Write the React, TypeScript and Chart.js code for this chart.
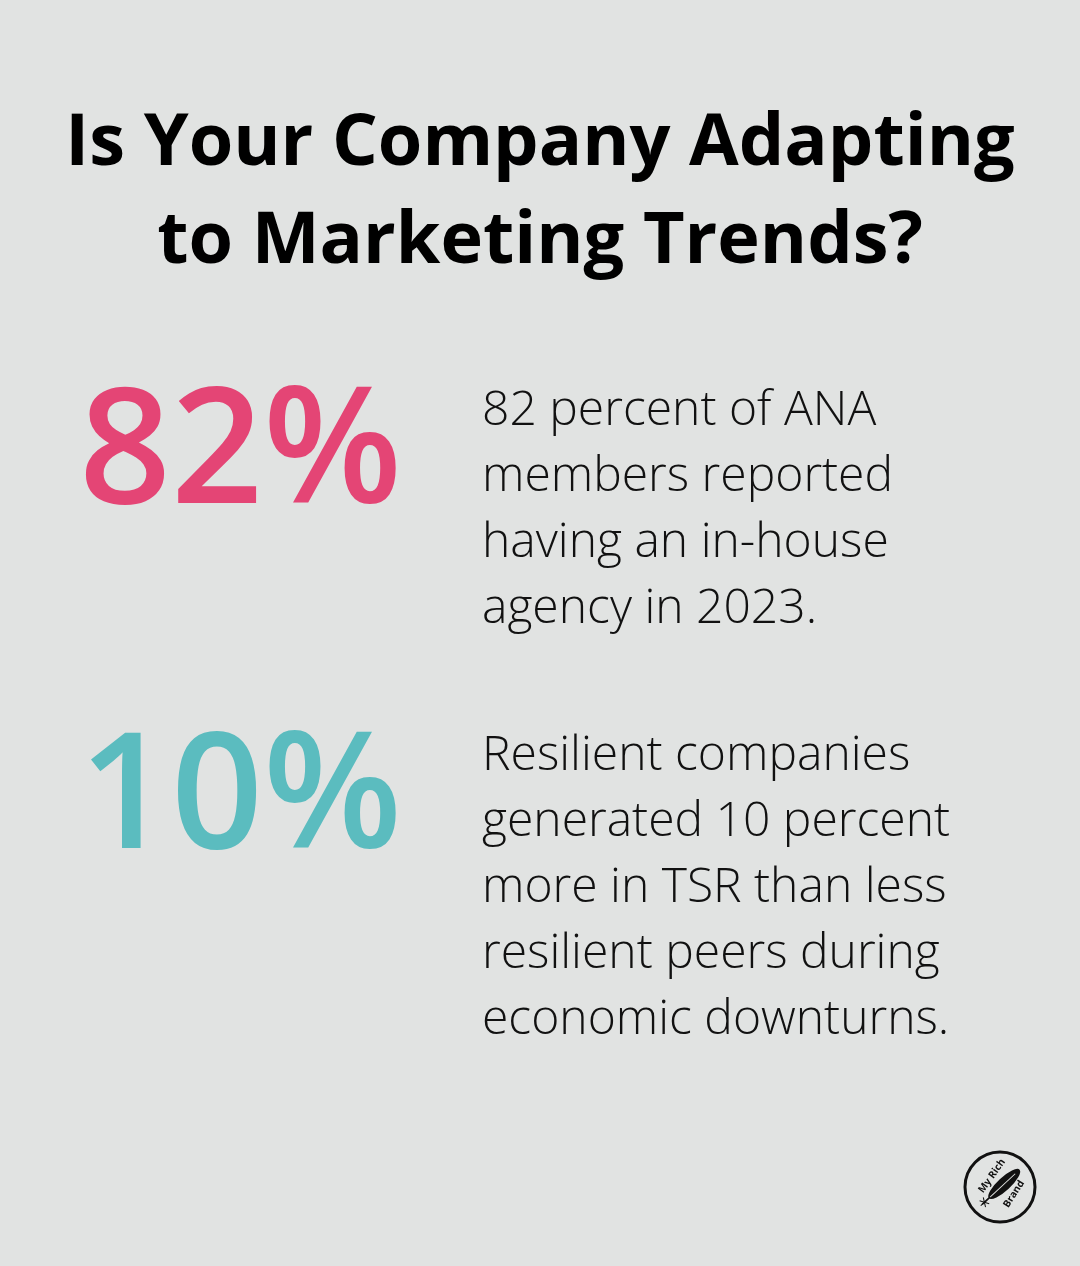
import React, { useEffect, useRef } from "react";
import { Chart, registerables } from "chart.js";

Chart.register(...registerables);

const TITLE_LINES = ["Is Your Company Adapting", "to Marketing Trends?"];
const STAT_LABELS = ["ANA members with in-house agency", "Resilient companies TSR advantage"];
const STAT_VALUES = [82, 10];
const STAT_COLORS = ["#e44575", "#5bbcbf"];
const STAT_TEXT_1 = ["82 percent of ANA", "members reported", "having an in-house", "agency in 2023."];
const STAT_TEXT_2 = [
  "Resilient companies",
  "generated 10 percent",
  "more in TSR than less",
  "resilient peers during",
  "economic downturns.",
];
const BRAND_LINES = ["My Rich", "Brand"];

const BG = "#e1e3e2";
const FONT = "'Open Sans', 'Noto Sans', sans-serif";

const infographicPlugin = {
  id: "infographic",
  beforeDraw(chart: any) {
    const ctx = chart.ctx;
    ctx.save();
    ctx.fillStyle = BG;
    ctx.fillRect(0, 0, chart.width, chart.height);
    ctx.restore();
  },
  afterDraw(chart: any) {
    const ctx: CanvasRenderingContext2D = chart.ctx;
    const values = chart.data.datasets[0].data as number[];
    const texts = [STAT_TEXT_1, STAT_TEXT_2];
    const numBaselines = [503, 848];
    const textBaselines = [425, 770];
    ctx.save();
    ctx.textAlign = "left";
    ctx.textBaseline = "alphabetic";
    values.forEach((v, i) => {
      ctx.fillStyle = STAT_COLORS[i];
      ctx.font = `600 161px ${FONT}`;
      ctx.fillText(`${v}%`, 79, numBaselines[i]);
      ctx.fillStyle = "#111111";
      ctx.font = `300 48px ${FONT}`;
      texts[i].forEach((line, j) => {
        ctx.fillText(line, 482, textBaselines[i] + j * 66);
      });
    });

    // logo
    const cx = 1000;
    const cy = 1187;
    ctx.beginPath();
    ctx.arc(cx, cy, 35, 0, Math.PI * 2);
    ctx.lineWidth = 3;
    ctx.strokeStyle = "#111111";
    ctx.stroke();

    // feather
    ctx.save();
    ctx.translate(1002, 1186);
    ctx.rotate(-Math.PI / 4.2);
    ctx.beginPath();
    ctx.ellipse(3, 0, 21, 6.5, 0, 0, Math.PI * 2);
    ctx.fillStyle = "#111111";
    ctx.fill();
    ctx.beginPath();
    ctx.moveTo(-24, 0);
    ctx.lineTo(18, 0);
    ctx.strokeStyle = BG;
    ctx.lineWidth = 1;
    ctx.stroke();
    ctx.beginPath();
    ctx.moveTo(-27, 0);
    ctx.lineTo(-16, 0);
    ctx.strokeStyle = "#111111";
    ctx.lineWidth = 1.5;
    ctx.stroke();
    // small splash at quill tip
    for (let k = 0; k < 6; k++) {
      const a = (k / 6) * Math.PI * 2;
      ctx.beginPath();
      ctx.moveTo(-24, 0);
      ctx.lineTo(-24 + Math.cos(a) * 5, Math.sin(a) * 5);
      ctx.lineWidth = 1;
      ctx.stroke();
    }
    ctx.restore();

    ctx.fillStyle = "#111111";
    ctx.font = `700 10px ${FONT}`;
    ctx.textAlign = "center";
    ctx.textBaseline = "middle";
    ctx.save();
    ctx.translate(992, 1176);
    ctx.rotate(-0.95);
    ctx.fillText(BRAND_LINES[0], 0, 0);
    ctx.restore();
    ctx.save();
    ctx.translate(1014, 1194);
    ctx.rotate(-1.0);
    ctx.fillText(BRAND_LINES[1], 0, 0);
    ctx.restore();
    ctx.restore();
  },
};

export default function App() {
  const ref = useRef<HTMLCanvasElement | null>(null);
  useEffect(() => {
    document.body.style.margin = "0";
    document.body.style.background = BG;
    if (!ref.current) return;
    const chart = new Chart(ref.current, {
      type: "bar",
      data: {
        labels: STAT_LABELS,
        datasets: [
          {
            data: STAT_VALUES,
            backgroundColor: "rgba(0,0,0,0)",
            borderWidth: 0,
          },
        ],
      },
      options: {
        responsive: false,
        animation: false,
        devicePixelRatio: 1,
        layout: { padding: 0 },
        scales: {
          x: { display: false },
          y: { display: false },
        },
        plugins: {
          legend: { display: false },
          tooltip: { enabled: false },
          title: {
            display: true,
            text: TITLE_LINES,
            color: "#000000",
            align: "center",
            font: { family: FONT, size: 72, weight: "bold", lineHeight: 98 / 72 },
            padding: { top: 95, bottom: 0 },
          },
        },
      },
      plugins: [infographicPlugin],
    });
    return () => chart.destroy();
  }, []);
  return (
    <div style={{ position: "absolute", left: 0, top: 0, width: 1080, height: 1266, background: BG }}>
      <canvas ref={ref} width={1080} height={1266} style={{ display: "block", width: 1080, height: 1266 }} />
    </div>
  );
}
